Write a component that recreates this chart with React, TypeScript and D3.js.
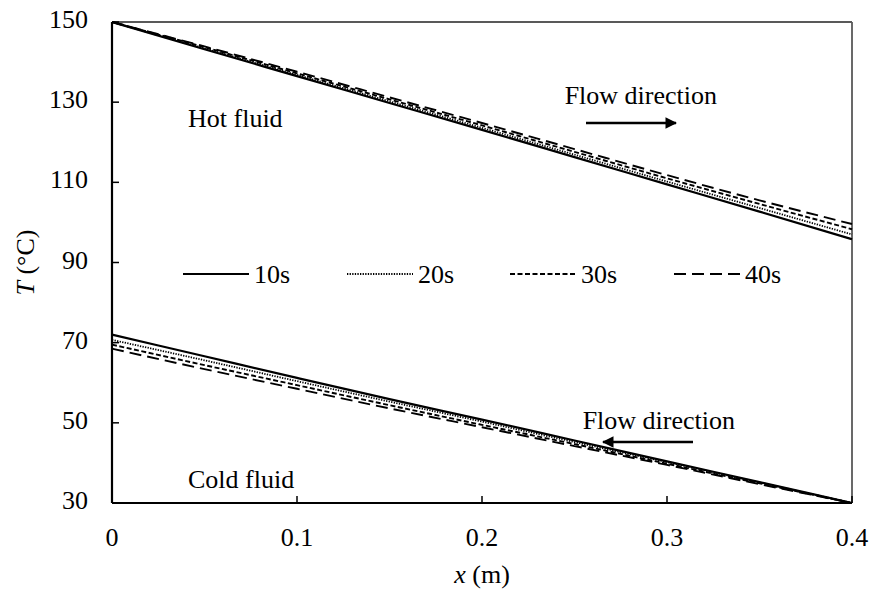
import React from "react";
import * as d3 from "d3";

// Axial positions along the exchanger (m)
const xPos = [0, 0.05, 0.1, 0.15, 0.2, 0.25, 0.3, 0.35, 0.4];

// Hot fluid temperature (°C) at each time
const hot10s = [150, 143.2, 136.5, 129.8, 123.1, 116.3, 109.5, 102.7, 95.8];
const hot20s = [150, 143.4, 136.8, 130.2, 123.6, 116.9, 110.2, 103.6, 97.0];
const hot30s = [150, 143.7, 137.2, 130.7, 124.2, 117.6, 111.0, 104.6, 98.3];
const hot40s = [150, 143.9, 137.6, 131.2, 124.8, 118.3, 111.8, 105.5, 99.6];

// Cold fluid temperature (°C) at each time
const cold10s = [72.0, 66.6, 61.2, 55.9, 50.8, 45.6, 40.4, 35.2, 30.0];
const cold20s = [70.7, 65.6, 60.4, 55.3, 50.3, 45.2, 40.2, 35.1, 30.0];
const cold30s = [69.5, 64.4, 59.4, 54.4, 49.5, 44.7, 39.8, 34.9, 30.0];
const cold40s = [68.5, 63.4, 58.5, 53.6, 48.9, 44.2, 39.5, 34.7, 30.0];

const seriesNames = ["10s", "20s", "30s", "40s"];
const yTicks = [30, 50, 70, 90, 110, 130, 150];
const xTicks = [0, 0.1, 0.2, 0.3, 0.4];

const dashes = ["none", "1.3,1.3", "5,2.5", "12,6"];
const widths = [2.2, 1.8, 1.9, 1.9];

const W = 872;
const H = 593;
const plot = { left: 112, right: 852, top: 22, bottom: 503 };
const FONT = "'Liberation Serif', 'Times New Roman', serif";
const FS = 26;

export default function App() {
  const x = d3.scaleLinear().domain([0, 0.4]).range([plot.left, plot.right]);
  const y = d3.scaleLinear().domain([30, 150]).range([plot.bottom, plot.top]);
  const line = d3
    .line<number>()
    .x((_, i) => x(xPos[i]))
    .y((d) => y(d))
    .curve(d3.curveMonotoneX);

  const hot = [hot10s, hot20s, hot30s, hot40s];
  const cold = [cold10s, cold20s, cold30s, cold40s];

  const legendX = [183, 347, 510, 674];
  const legendY = 274;

  return (
    <svg
      width={W}
      height={H}
      style={{ position: "absolute", left: 0, top: 0, background: "#fff" }}
      fontFamily={FONT}
    >
      <defs>
        <marker
          id="arrowHead"
          viewBox="0 0 10 10"
          refX="9"
          refY="5"
          markerWidth="4.5"
          markerHeight="4.5"
          markerUnits="strokeWidth"
          orient="auto"
        >
          <path d="M0,0 L10,5 L0,10 z" fill="#000" />
        </marker>
      </defs>

      {/* frame: top and right in grey */}
      <line x1={plot.left} x2={plot.right} y1={plot.top} y2={plot.top} stroke="#595959" strokeWidth={1.8} />
      <line x1={plot.right} x2={plot.right} y1={plot.top} y2={plot.bottom} stroke="#595959" strokeWidth={1.8} />

      {/* series */}
      {hot.map((s, i) => (
        <path key={"h" + i} d={line(s) ?? ""} fill="none" stroke="#000" strokeWidth={widths[i]} strokeDasharray={dashes[i]} />
      ))}
      {cold.map((s, i) => (
        <path key={"c" + i} d={line(s) ?? ""} fill="none" stroke="#000" strokeWidth={widths[i]} strokeDasharray={dashes[i]} />
      ))}

      {/* axes */}
      <line x1={plot.left} x2={plot.left} y1={plot.top} y2={plot.bottom} stroke="#000" strokeWidth={2.2} />
      <line x1={plot.left} x2={plot.right} y1={plot.bottom} y2={plot.bottom} stroke="#000" strokeWidth={2.2} />

      {yTicks.map((t) => (
        <g key={"yt" + t}>
          <line x1={plot.left} x2={plot.left + 7} y1={y(t)} y2={y(t)} stroke="#000" strokeWidth={1.5} />
          <text x={88} y={y(t) + 6} textAnchor="end" fontSize={FS}>
            {t}
          </text>
        </g>
      ))}
      {xTicks.map((t) => (
        <g key={"xt" + t}>
          <line x1={x(t)} x2={x(t)} y1={plot.bottom} y2={plot.bottom - 7} stroke="#000" strokeWidth={1.5} />
          <text x={x(t)} y={546} textAnchor="middle" fontSize={FS}>
            {t === 0 ? "0" : t.toFixed(1)}
          </text>
        </g>
      ))}

      {/* axis titles */}
      <text x={(plot.left + plot.right) / 2} y={583} textAnchor="middle" fontSize={FS}>
        <tspan fontStyle="italic">x</tspan> (m)
      </text>
      <text transform={`translate(34, ${(plot.top + plot.bottom) / 2}) rotate(-90)`} textAnchor="middle" fontSize={FS}>
        <tspan fontStyle="italic">T</tspan> (°C)
      </text>

      {/* legend */}
      {seriesNames.map((n, i) => (
        <g key={"lg" + n}>
          <line
            x1={legendX[i]}
            x2={legendX[i] + 66}
            y1={legendY}
            y2={legendY}
            stroke="#000"
            strokeWidth={widths[i]}
            strokeDasharray={dashes[i]}
          />
          <text x={legendX[i] + 71} y={legendY + 9} fontSize={FS}>
            {n}
          </text>
        </g>
      ))}

      {/* annotations */}
      <text x={188} y={127} fontSize={FS}>Hot fluid</text>
      <text x={188} y={488} fontSize={FS}>Cold fluid</text>

      <text x={717} y={104} textAnchor="end" fontSize={FS}>Flow direction</text>
      <line x1={586} x2={676} y1={123} y2={123} stroke="#000" strokeWidth={2.6} markerEnd="url(#arrowHead)" />

      <text x={735} y={429} textAnchor="end" fontSize={FS}>Flow direction</text>
      <line x1={693} x2={603} y1={442} y2={442} stroke="#000" strokeWidth={2.6} markerEnd="url(#arrowHead)" />
    </svg>
  );
}
